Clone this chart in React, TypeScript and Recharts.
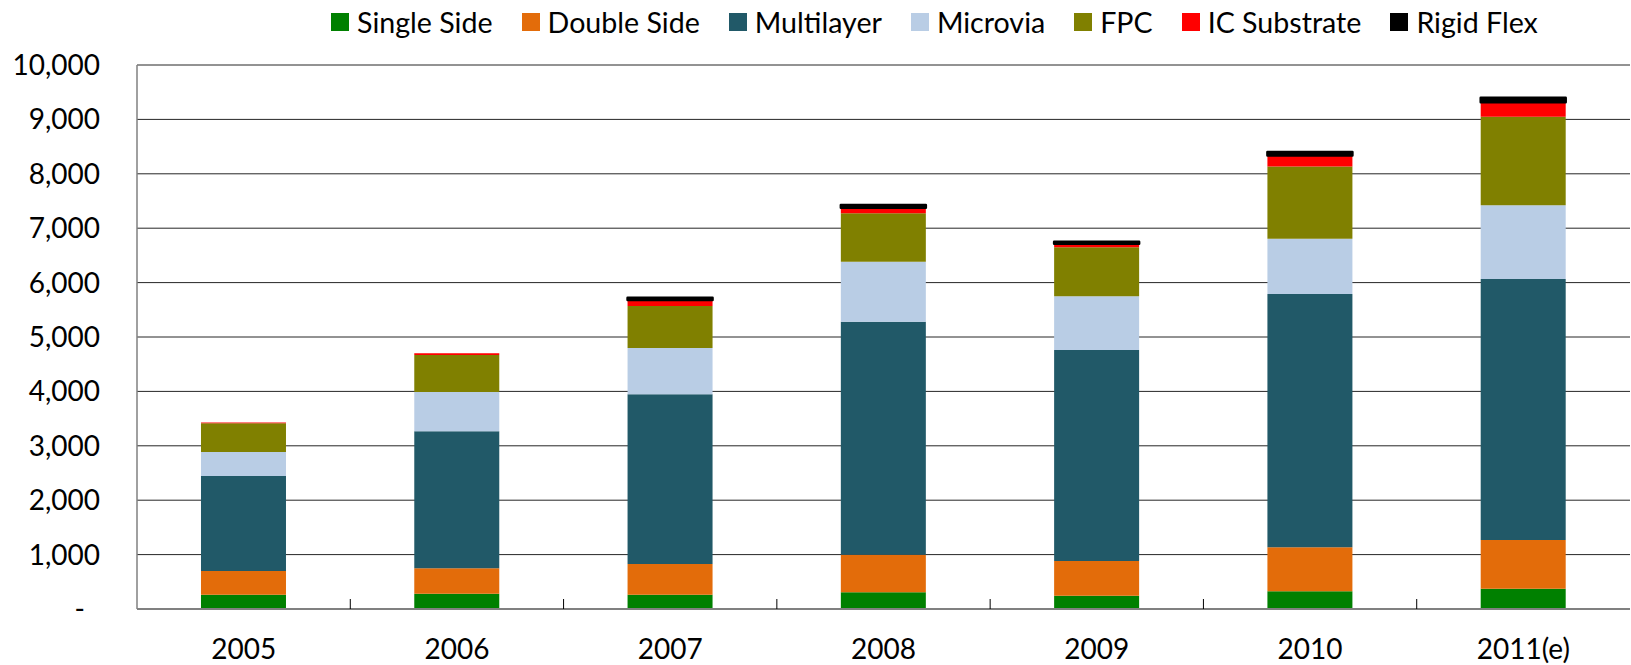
import { Bar, BarChart, CartesianGrid, Legend, XAxis, YAxis } from "recharts";

const years = ["2005", "2006", "2007", "2008", "2009", "2010", "2011(e)"];
const singleSide = [263, 281, 263, 307, 245, 325, 373];
const doubleSide = [435, 467, 564, 691, 637, 809, 895];
const multilayer = [1747, 2518, 3120, 4283, 3879, 4656, 4798];
const microvia = [441, 723, 851, 1103, 987, 1017, 1354];
const fpc = [527, 680, 772, 889, 901, 1329, 1630];
const icSubstrate = [15, 30, 110, 104, 66, 202, 263];
const rigidFlex = [0, 0, 43, 50, 37, 61, 86];

const yTicks = [0, 1000, 2000, 3000, 4000, 5000, 6000, 7000, 8000, 9000, 10000];

const seriesKeys = ["single", "double", "multi", "microvia", "fpc", "ic", "rigid"];
const seriesNames = ["Single Side", "Double Side", "Multilayer", "Microvia", "FPC", "IC Substrate", "Rigid Flex"];
const seriesColors = ["#008000", "#E36C0A", "#215968", "#B9CDE5", "#808000", "#FF0000", "#000000"];

const data = years.map((year, i) => ({
  year,
  single: singleSide[i],
  double: doubleSide[i],
  multi: multilayer[i],
  microvia: microvia[i],
  fpc: fpc[i],
  ic: icSubstrate[i],
  rigid: rigidFlex[i],
}));

const FONT = "Lato, 'Open Sans', sans-serif";

function YTick(props: any) {
  const { x, y, payload } = props;
  const v = payload.value as number;
  const label = v === 0 ? "-" : v.toLocaleString("en-US");
  return (
    <text x={v === 0 ? x - 15 : x} y={y} dy="0.36em" textAnchor="end" fontFamily={FONT} fontSize={28} fill="#000">
      {label}
    </text>
  );
}

// category label plus the small tick mark on the boundary to its left
function XTick(props: any) {
  const { x, y, payload, index, width, visibleTicksCount } = props;
  const half = width && visibleTicksCount ? width / visibleTicksCount / 2 : 0;
  return (
    <g>
      {index > 0 && half > 0 && (
        <line x1={x - half} x2={x - half} y1={y} y2={y - 10} stroke="#000" strokeWidth={1} />
      )}
      <text x={x} y={y + 50} textAnchor="middle" fontFamily={FONT} fontSize={28} fill="#000">
        {payload.value}
      </text>
    </g>
  );
}

function LegendContent() {
  return (
    <div style={{ display: "flex", alignItems: "center", height: 44, paddingLeft: 331, fontFamily: FONT, fontSize: 28.6 }}>
      {seriesNames.map((name, i) => (
        <div key={name} style={{ display: "flex", alignItems: "center", marginRight: 29 }}>
          <span style={{ display: "inline-block", width: 18, height: 18, background: seriesColors[i], marginRight: 8 }} />
          <span style={{ lineHeight: "44px", whiteSpace: "nowrap" }}>{name}</span>
        </div>
      ))}
    </div>
  );
}

export default function App() {
  return (
    <div style={{ position: "absolute", left: 0, top: 0, width: 1631, height: 665, background: "#fff" }}>
      <BarChart
        width={1631}
        height={665}
        data={data}
        margin={{ top: 21, right: 1, bottom: 0, left: 0 }}
        barCategoryGap="30%"
      >
        <CartesianGrid vertical={false} stroke="#262626" />
        <XAxis
          dataKey="year"
          height={56}
          axisLine={{ stroke: "#808080", strokeWidth: 2 }}
          tickLine={false}
          tickSize={0}
          tickMargin={0}
          tick={<XTick />}
        />
        <YAxis
          width={137}
          domain={[0, 10000]}
          ticks={yTicks}
          axisLine={{ stroke: "#808080", strokeWidth: 1.5 }}
          tickLine={false}
          tickSize={0}
          tickMargin={37}
          tick={<YTick />}
        />
        <Legend verticalAlign="top" content={<LegendContent />} wrapperStyle={{ top: 0, left: 0, width: 1631, height: 44 }} />
        {seriesKeys.map((key, i) => (
          <Bar
            key={key}
            dataKey={key}
            name={seriesNames[i]}
            stackId="a"
            fill={seriesColors[i]}
            stroke={key === "rigid" ? "#000" : undefined}
            strokeWidth={key === "rigid" ? 2.5 : 0}
            strokeLinejoin="round"
            isAnimationActive={false}
          />
        ))}
      </BarChart>
    </div>
  );
}
